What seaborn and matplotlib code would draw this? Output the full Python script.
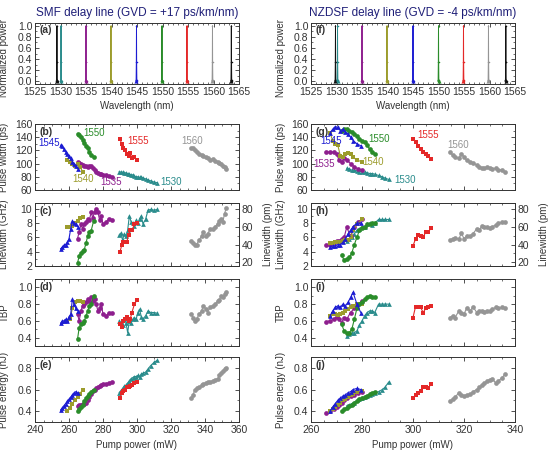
import numpy as np
import pandas as pd
import matplotlib
matplotlib.use("Agg")
import matplotlib.pyplot as plt
import seaborn as sns
from matplotlib.ticker import MultipleLocator, FormatStrFormatter

# ---------------- data ----------------
WAVELENGTHS = [1530, 1535, 1540, 1545, 1550, 1555, 1560]
COLORS = ["#2a8c8c", "#8e1f8e", "#9c9c2c", "#1c1cd2", "#2a8c2a", "#e42828", "#959595"]
MARKERS = ["^", "o", "s", "^", "o", "s", "o"]

# spectra: peak centres (nm) and colours (a) / (f)
SMF_PEAKS = [1529.3, 1530.1, 1535.0, 1539.9, 1544.9, 1549.9, 1554.8, 1559.8, 1563.5]
NZ_PEAKS = [1529.8, 1530.2, 1535.0, 1539.9, 1545.0, 1550.0, 1554.9, 1559.8, 1563.2]
PEAK_COLORS = ["#111111", "#2a8c8c", "#8e1f8e", "#9c9c2c", "#1c1cd2", "#2a8c2a", "#e42828", "#959595", "#111111"]
SPEC_OFFSETS = [-0.14, -0.07, -0.03, 0.0, 0.03, 0.07, 0.14]
SPEC_LEVELS = [0.0, 0.03, 0.35, 1.0, 0.35, 0.03, 0.0]

# ---- SMF delay line ----
smf_1530_pump = [289.5, 290.5, 291.5, 292.5, 293.5, 294.5, 295.5, 296.5, 297.5, 298.5, 299.5, 300.5, 301.5, 302.5, 303.5, 305, 306.5, 308, 310, 312]
smf_1530_pw = [88, 87, 87, 86, 86, 85, 84, 83, 83, 81, 80, 80, 79, 80, 78, 77, 75, 74, 72, 71]
smf_1530_lw = [6.3, 6.6, 5.6, 6.5, 6.2, 7.0, 9.0, 8.2, 8.0, 7.6, 8.4, 8.0, 8.6, 9.0, 7.9, 8.5, 9.8, 9.9, 9.8, 9.9]
smf_1530_tbp = [0.60, 0.58, 0.55, 0.62, 0.58, 0.46, 0.60, 0.58, 0.62, 0.64, 0.62, 0.70, 0.74, 0.65, 0.62, 0.66, 0.72, 0.70, 0.70, 0.69]
smf_1530_e = [0.57, 0.59, 0.61, 0.63, 0.64, 0.66, 0.68, 0.70, 0.71, 0.72, 0.72, 0.73, 0.72, 0.74, 0.75, 0.76, 0.79, 0.82, 0.85, 0.87]

smf_1535_pump = [265, 266, 267, 268, 269, 270, 271, 272, 273, 274, 275, 276, 277, 278, 279, 280, 282, 283.5, 285]
smf_1535_pw = [103, 101, 100, 98, 96, 97, 95, 97, 96, 93, 90, 88, 86, 85, 84, 83, 82, 81, 80]
smf_1535_lw = [5.8, 6.8, 7.8, 7.2, 7.8, 8.2, 8.5, 8.4, 9.5, 8.7, 9.6, 10.0, 9.6, 8.4, 9.0, 7.8, 8.2, 8.6, 8.4]
smf_1535_tbp = [0.68, 0.60, 0.72, 0.78, 0.80, 0.82, 0.86, 0.84, 0.88, 0.84, 0.86, 0.80, 0.72, 0.75, 0.80, 0.68, 0.66, 0.70, 0.70]
smf_1535_e = [0.45, 0.46, 0.46, 0.47, 0.47, 0.48, 0.50, 0.53, 0.56, 0.59, 0.60, 0.61, 0.62, 0.63, 0.64, 0.65, 0.65, 0.66, 0.67]

smf_1540_pump = [259, 260.5, 262, 263.5, 265, 266.5, 268]
smf_1540_pw = [105, 102, 100, 97, 100, 95, 88]
smf_1540_lw = [7.4, 7.5, 7.6, 8.0, 8.3, 8.7, 8.9]
smf_1540_tbp = [0.60, 0.62, 0.75, 0.82, 0.84, 0.84, 0.83]
smf_1540_e = [0.40, 0.43, 0.47, 0.50, 0.53, 0.56, 0.60]

smf_1545_pump = [255, 256, 257, 258, 259, 260, 261, 262, 263, 264, 265]
smf_1545_pw = [128, 126, 122, 118, 115, 112, 108, 103, 100, 96, 92]
smf_1545_lw = [4.4, 4.6, 4.9, 5.0, 5.3, 5.8, 7.2, 8.3, 8.0, 7.8, 7.5]
smf_1545_tbp = [0.57, 0.60, 0.60, 0.62, 0.60, 0.65, 0.68, 0.86, 0.80, 0.75, 0.72]
smf_1545_e = [0.41, 0.43, 0.45, 0.47, 0.49, 0.51, 0.53, 0.55, 0.57, 0.58, 0.57]

smf_1550_pump = [265, 266, 267, 268, 269, 270, 271, 272, 273, 274.5]
smf_1550_pw = [145, 144, 141, 136, 131, 127, 123, 118, 113, 110]
smf_1550_lw = [2.4, 3.4, 3.8, 4.1, 4.3, 5.2, 6.2, 6.8, 6.9, 8.3]
smf_1550_tbp = [0.38, 0.52, 0.56, 0.57, 0.60, 0.66, 0.72, 0.78, 0.80, 0.90]
smf_1550_e = [0.40, 0.42, 0.44, 0.46, 0.49, 0.52, 0.54, 0.56, 0.58, 0.60]

smf_1555_pump = [290, 291, 292, 293, 294, 295, 296, 297, 298.5, 300]
smf_1555_pw = [137, 130, 124, 120, 115, 112, 116, 108, 110, 105]
smf_1555_lw = [4.0, 4.9, 5.4, 5.4, 5.4, 6.3, 7.0, 7.0, 7.8, 8.0]
smf_1555_tbp = [0.56, 0.53, 0.60, 0.62, 0.65, 0.60, 0.62, 0.70, 0.80, 0.85]
smf_1555_e = [0.52, 0.57, 0.59, 0.60, 0.62, 0.62, 0.63, 0.64, 0.66, 0.67]

smf_1560_pump = [332, 333, 334, 335, 336.5, 338, 339, 340.5, 341.5, 343, 344.5, 346, 347.5, 348.5, 349.5, 350.5, 351.5, 352.5]
smf_1560_pw = [123, 124, 120, 117, 115, 113, 111, 110, 108, 106, 107, 104, 103, 101, 99, 97, 95, 92]
smf_1560_lw = [5.5, 5.2, 4.9, 5.0, 5.6, 6.2, 6.8, 6.2, 6.5, 7.1, 7.2, 7.5, 7.9, 8.3, 8.6, 8.2, 9.3, 10.1]
smf_1560_tbp = [0.68, 0.64, 0.60, 0.62, 0.68, 0.72, 0.78, 0.74, 0.70, 0.76, 0.78, 0.80, 0.84, 0.85, 0.90, 0.88, 0.92, 0.94]
smf_1560_e = [0.52, 0.55, 0.60, 0.61, 0.62, 0.64, 0.65, 0.66, 0.67, 0.67, 0.68, 0.69, 0.70, 0.73, 0.75, 0.77, 0.79, 0.80]

# ---- NZDSF delay line ----
nz_1530_pump = [274, 275, 276, 277, 278, 279, 280, 281, 282, 283, 284, 285, 286.5, 288, 289, 290.5]
nz_1530_pw = [93, 92, 90, 90, 89, 88, 88, 87, 86, 85, 85, 84, 82, 80, 78, 76]
nz_1530_lw = [5.5, 5.8, 6.0, 6.5, 7.0, 7.2, 7.5, 7.5, 7.8, 8.0, 7.7, 8.0, 8.5, 8.5, 8.5, 8.5]
nz_1530_tbp = [0.42, 0.44, 0.45, 0.46, 0.48, 0.55, 0.60, 0.66, 0.70, 0.72, 0.72, 0.70, 0.80, 0.80, 0.80, 0.80]
nz_1530_e = [0.45, 0.46, 0.47, 0.48, 0.50, 0.51, 0.52, 0.53, 0.54, 0.55, 0.56, 0.57, 0.58, 0.60, 0.62, 0.67]

nz_1535_pump = [266, 267.5, 269, 270, 271, 272, 273, 274, 275.5, 277, 278.5, 280]
nz_1535_pw = [117, 118, 117, 115, 105, 102, 108, 106, 100, 95, 92, 90]
nz_1535_lw = [5.0, 5.0, 5.2, 5.5, 5.5, 5.8, 6.0, 7.4, 6.2, 7.5, 8.2, 8.5]
nz_1535_tbp = [0.59, 0.60, 0.62, 0.65, 0.62, 0.58, 0.64, 0.62, 0.70, 0.75, 0.80, 0.84]
nz_1535_e = [0.38, 0.40, 0.42, 0.44, 0.46, 0.48, 0.50, 0.52, 0.54, 0.55, 0.57, 0.58]

nz_1540_pump = [267.5, 268.5, 269.5, 270.5, 271.5, 272.5, 273.5, 274.5, 275.5, 276.5, 278, 280]
nz_1540_pw = [146, 135, 130, 128, 112, 110, 115, 116, 115, 110, 105, 103]
nz_1540_lw = [5.2, 5.2, 5.3, 5.3, 5.4, 5.5, 5.6, 5.7, 6.0, 7.0, 7.8, 8.5]
nz_1540_tbp = [0.66, 0.68, 0.68, 0.67, 0.68, 0.70, 0.72, 0.74, 0.76, 0.78, 0.80, 0.80]
nz_1540_e = [0.40, 0.42, 0.44, 0.46, 0.48, 0.50, 0.51, 0.53, 0.55, 0.56, 0.58, 0.59]

nz_1545_pump = [267.5, 268.5, 269.5, 270.5, 271.5, 272.5, 273.5, 274.5, 275.5, 276.5, 278, 279.5]
nz_1545_pw = [147, 152, 156, 155, 150, 152, 148, 145, 140, 135, 130, 127]
nz_1545_lw = [4.7, 4.8, 4.8, 5.0, 5.0, 5.3, 5.8, 6.5, 7.0, 7.5, 8.0, 8.0]
nz_1545_tbp = [0.66, 0.72, 0.76, 0.78, 0.76, 0.80, 0.78, 0.82, 0.88, 0.94, 0.80, 0.70]
nz_1545_e = [0.40, 0.44, 0.47, 0.50, 0.52, 0.54, 0.55, 0.57, 0.58, 0.60, 0.61, 0.60]

nz_1550_pump = [272, 273, 274, 275, 276, 277, 278, 279, 280, 281, 282, 283, 284, 285]
nz_1550_pw = [150, 152, 152, 150, 148, 145, 142, 138, 135, 133, 128, 122, 118, 115]
nz_1550_lw = [3.5, 2.8, 3.0, 3.2, 3.8, 5.0, 6.0, 7.0, 7.3, 7.5, 7.8, 7.8, 8.0, 8.0]
nz_1550_tbp = [0.56, 0.48, 0.45, 0.46, 0.50, 0.62, 0.75, 0.80, 0.82, 0.86, 0.88, 0.90, 0.89, 0.88]
nz_1550_e = [0.40, 0.42, 0.43, 0.45, 0.46, 0.48, 0.49, 0.51, 0.52, 0.53, 0.54, 0.56, 0.57, 0.58]

nz_1555_pump = [300, 301, 302, 303, 304, 305, 306, 307]
nz_1555_pw = [138, 132, 127, 122, 118, 114, 112, 107]
nz_1555_lw = [4.8, 5.8, 6.3, 6.2, 6.0, 6.8, 6.7, 7.3]
nz_1555_tbp = [0.64, 0.77, 0.76, 0.76, 0.70, 0.75, 0.76, 0.78]
nz_1555_e = [0.52, 0.55, 0.57, 0.59, 0.62, 0.62, 0.61, 0.65]

nz_1560_pump = [314.5, 315.5, 316.5, 318, 319, 320, 321, 322.5, 323.5, 325, 326, 327, 328, 329, 330, 331, 332.5, 333.5, 335, 336]
nz_1560_pw = [117, 113, 110, 108, 115, 110, 105, 103, 101, 98, 95, 93, 93, 95, 94, 92, 93, 91, 90, 88]
nz_1560_lw = [5.6, 5.8, 5.9, 5.8, 6.6, 5.8, 6.2, 6.2, 6.5, 7.2, 7.0, 7.6, 7.5, 7.4, 7.3, 7.5, 7.7, 8.0, 8.1, 8.2]
nz_1560_tbp = [0.64, 0.66, 0.64, 0.72, 0.70, 0.68, 0.75, 0.72, 0.77, 0.70, 0.72, 0.72, 0.71, 0.72, 0.72, 0.74, 0.76, 0.75, 0.76, 0.75]
nz_1560_e = [0.49, 0.51, 0.53, 0.57, 0.55, 0.54, 0.55, 0.56, 0.58, 0.60, 0.62, 0.64, 0.66, 0.68, 0.69, 0.70, 0.66, 0.68, 0.71, 0.74]

# labels in pulse-width panels (x, y in data units)
SMF_LABEL_POS = {1545: (242, 131), 1550: (268.5, 147), 1555: (294.5, 135), 1560: (326, 134),
                 1540: (262, 76), 1535: (278.5, 72), 1530: (313.5, 72)}
NZ_LABEL_POS = {1545: (263.5, 134), 1550: (282.5, 138), 1555: (301.5, 143), 1560: (313.5, 128),
                1535: (261, 100), 1540: (280, 102), 1530: (292.5, 75)}

# ---------------- assemble tidy table ----------------
rows = []
g = globals()
for fiber, prefix in [("SMF", "smf"), ("NZDSF", "nz")]:
    for wl in WAVELENGTHS:
        df = pd.DataFrame({
            "pump": g[f"{prefix}_{wl}_pump"],
            "pw": g[f"{prefix}_{wl}_pw"],
            "lw": g[f"{prefix}_{wl}_lw"],
            "tbp": g[f"{prefix}_{wl}_tbp"],
            "e": g[f"{prefix}_{wl}_e"],
        })
        df["fiber"] = fiber
        df["wl"] = wl
        rows.append(df)
data = pd.concat(rows, ignore_index=True)

# ---------------- style ----------------
sns.set_theme(style="ticks")
FS = 7.5
LFS = 7
plt.rcParams.update({
    "font.family": ["Liberation Sans", "DejaVu Sans"],
    "font.size": FS,
    "axes.labelsize": LFS,
    "xtick.labelsize": FS,
    "ytick.labelsize": FS,
    "xtick.direction": "in",
    "ytick.direction": "in",
    "xtick.top": True,
    "ytick.right": True,
    "xtick.major.size": 3,
    "ytick.major.size": 3,
    "xtick.minor.size": 1.6,
    "ytick.minor.size": 1.6,
    "xtick.major.width": 0.6,
    "ytick.major.width": 0.6,
    "xtick.minor.width": 0.5,
    "ytick.minor.width": 0.5,
    "xtick.major.pad": 2,
    "ytick.major.pad": 2,
    "axes.linewidth": 0.7,
    "axes.edgecolor": "#333333",
    "xtick.color": "#333333",
    "ytick.color": "#333333",
    "axes.labelcolor": "#333333",
    "text.color": "#333333",
})

fig = plt.figure(figsize=(5.5, 4.58), dpi=100)
W, H = 550.0, 458.0
col_left = [35, 311]
col_w = 204
rows_px = [(23, 84), (124, 190), (203, 266), (279, 346), (357, 422)]

def make_ax(col, r):
    top, bot = rows_px[r]
    return fig.add_axes([col_left[col] / W, 1 - bot / H, col_w / W, (bot - top) / H])

cmap = dict(zip(WAVELENGTHS, COLORS))
mmap = dict(zip(WAVELENGTHS, MARKERS))

titles = ["SMF delay line (GVD = +17 ps/km/nm)", "NZDSF delay line (GVD = -4 ps/km/nm)"]
letters = [["(a)", "(b)", "(c)", "(d)", "(e)"], ["(f)", "(g)", "(h)", "(i)", "(j)"]]
xlims = [(240, 360), (260, 340)]
peaks_all = [SMF_PEAKS, NZ_PEAKS]
label_pos = [SMF_LABEL_POS, NZ_LABEL_POS]
order = [1560, 1530, 1555, 1535, 1540, 1550, 1545]

for col, fiber in enumerate(["SMF", "NZDSF"]):
    # ---- spectra ----
    ax = make_ax(col, 0)
    for c, pc in zip(peaks_all[col], PEAK_COLORS):
        xs = [c + o for o in SPEC_OFFSETS]
        sns.lineplot(x=xs, y=SPEC_LEVELS, ax=ax, color=pc, linewidth=0.7,
                     marker=".", markersize=2.2, markeredgewidth=0,
                     estimator=None, sort=False, legend=False)
        sns.scatterplot(x=[c], y=[0.0], ax=ax, color=pc, marker="^", s=9,
                        linewidth=0, legend=False)
    ax.set_xlim(1525, 1565)
    ax.set_ylim(-0.05, 1.05)
    ax.xaxis.set_major_locator(MultipleLocator(5))
    ax.xaxis.set_minor_locator(MultipleLocator(1))
    ax.yaxis.set_major_locator(MultipleLocator(0.2))
    ax.yaxis.set_minor_locator(MultipleLocator(0.1))
    ax.yaxis.set_major_formatter(FormatStrFormatter("%.1f"))
    ax.set_xlabel("Wavelength (nm)", labelpad=3)
    ax.set_ylabel("Normalized power")
    ax.yaxis.set_label_coords(-0.125, 0.42)
    ax.set_title(titles[col], color="#1f1f78", fontsize=8.5, pad=5)
    ax.text(0.02, 0.96, letters[col][0], transform=ax.transAxes, fontweight="bold",
            va="top", ha="left", fontsize=FS)

    sub = data[data["fiber"] == fiber]
    specs = [("pw", "Pulse width (ps)", (60, 160), 20, 10, "%d"),
             ("lw", "Linewidth (GHz)", (2, 10.8), 2, 1, "%d"),
             ("tbp", "TBP", (0.3, 1.1), 0.2, 0.1, "%.1f"),
             ("e", "Pulse energy (nJ)", (0.3, 0.9), 0.2, 0.1, "%.1f")]
    for r, (key, lab, ylim, maj, mnr, fmt) in enumerate(specs, start=1):
        ax = make_ax(col, r)
        for wl in order:
            s = sub[sub["wl"] == wl]
            sns.lineplot(data=s, x="pump", y=key, ax=ax, color=cmap[wl],
                         marker=mmap[wl], markersize=3.4, markeredgewidth=0,
                         linewidth=0.8, estimator=None, sort=False, legend=False)
        ax.set_xlim(*xlims[col])
        ax.set_ylim(*ylim)
        ax.xaxis.set_major_locator(MultipleLocator(20))
        ax.xaxis.set_minor_locator(MultipleLocator(5))
        ax.yaxis.set_major_locator(MultipleLocator(maj))
        ax.yaxis.set_minor_locator(MultipleLocator(mnr))
        ax.yaxis.set_major_formatter(FormatStrFormatter(fmt))
        ax.set_ylabel(lab)
        ax.yaxis.set_label_coords(-0.125, 0.5)
        if r < 4:
            ax.set_xlabel("")
            ax.tick_params(axis="x", labelbottom=False)
        else:
            ax.set_xlabel("Pump power (mW)", labelpad=4)
        ax.text(0.02, 0.96, letters[col][r], transform=ax.transAxes, fontweight="bold",
                va="top", ha="left", fontsize=FS)
        if key == "pw":
            for wl, (tx, ty) in label_pos[col].items():
                ax.text(tx, ty, str(wl), color=cmap[wl], fontsize=7, ha="left", va="center")
        if key == "lw":
            ax.tick_params(axis="y", right=False, which="both")
            ax2 = ax.twinx()
            ax2.set_ylim(ylim[0] * 8.0, ylim[1] * 8.0)
            ax2.yaxis.set_major_locator(MultipleLocator(20))
            ax2.yaxis.set_minor_locator(MultipleLocator(10))
            ax2.tick_params(axis="y", direction="in", which="both")
            ax2.set_ylabel("Linewidth (pm)")
            ax2.yaxis.set_label_coords(1.12, 0.5)

fig.savefig("out.png", dpi=100)
